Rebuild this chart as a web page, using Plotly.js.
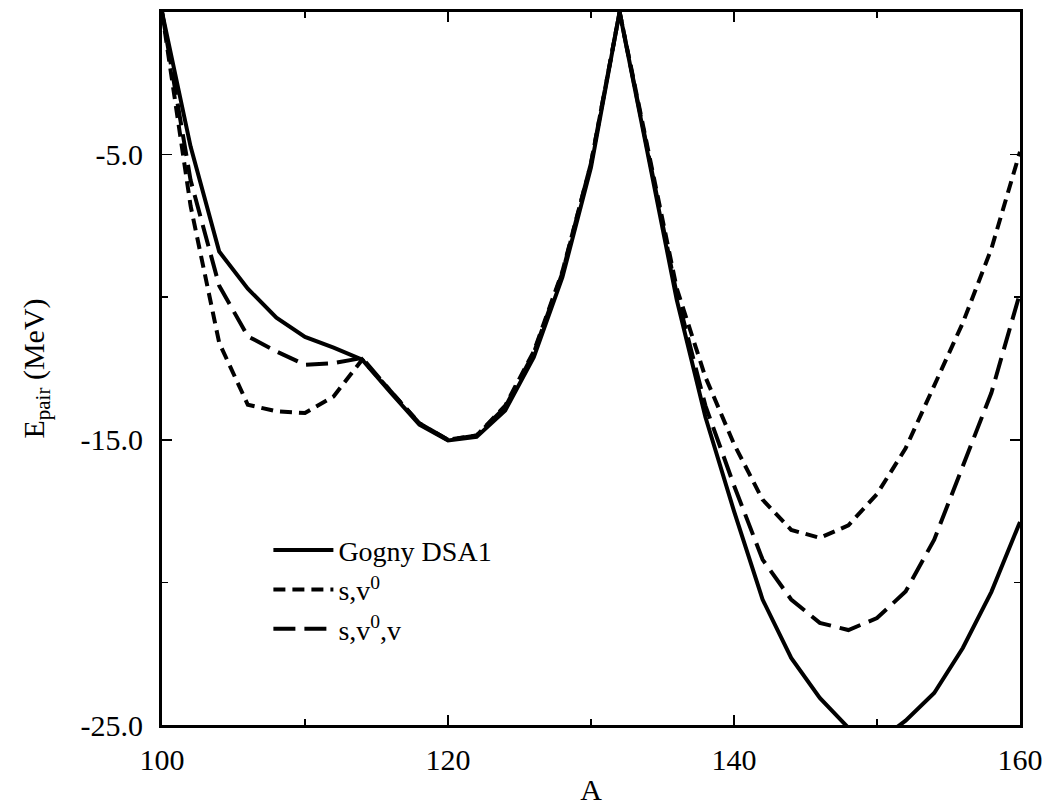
<!DOCTYPE html>
<html>
<head>
<meta charset="utf-8">
<script src="https://cdn.plot.ly/plotly-3.0.1.min.js"></script>
<style>html,body{margin:0;padding:0;background:#fff;font-family:'Liberation Serif',serif;}</style>
</head>
<body>
<div id="chart"></div>
<script>
const massNumber = [100,102,104,106,108,110,112,114,116,118,120,122,124,126,128,130,132,134,136,138,140,142,144,146,148,150,152,154,156,158,160];
const gognyDSA1 = [0,-4.72,-8.4,-9.7,-10.72,-11.39,-11.77,-12.19,-13.35,-14.47,-15.02,-14.9,-13.97,-12.1,-9.3,-5.45,0,-5.0,-10.1,-14.2,-17.5,-20.6,-22.65,-24.05,-25.1,-25.6,-24.85,-23.88,-22.3,-20.33,-17.88];
const sV0 = [0,-6.8,-11.6,-13.77,-14.0,-14.06,-13.48,-12.19,-13.3,-14.42,-15.0,-14.85,-13.8,-11.9,-9.1,-5.3,0,-4.9,-9.7,-12.8,-15.15,-17.1,-18.16,-18.44,-18.0,-16.9,-15.3,-13.1,-10.9,-8.3,-4.9];
const sV0V = [0,-5.9,-9.6,-11.37,-11.9,-12.37,-12.31,-12.13,-13.3,-14.42,-15.0,-14.85,-13.85,-11.95,-9.15,-5.3,0,-4.95,-9.9,-13.8,-16.6,-19.2,-20.6,-21.42,-21.67,-21.25,-20.32,-18.5,-15.94,-13.35,-9.85];
const seriesNames = ['Gogny DSA1','s,v<sup>0</sup>','s,v<sup>0</sup>,v'];
const yTickVals = [-25,-15,-5];
const yTickText = ['-25.0','-15.0','-5.0'];

const FAM = 'Liberation Serif';
const traces = [
  {x: massNumber, y: gognyDSA1, name: seriesNames[0], mode: 'lines', line: {color: '#000', width: 4, dash: 'solid'}},
  {x: massNumber, y: sV0, name: seriesNames[1], mode: 'lines', line: {color: '#000', width: 4, dash: '12px,7px'}},
  {x: massNumber, y: sV0V, name: seriesNames[2], mode: 'lines', line: {color: '#000', width: 4, dash: '22px,9px'}}
];
const layout = {
  width: 1050, height: 810,
  margin: {l: 162, r: 30, t: 12, b: 85},
  paper_bgcolor: '#fff', plot_bgcolor: '#fff',
  font: {family: FAM, size: 30, color: '#000'},
  showlegend: true,
  legend: {x: 0.124, y: 0.28, xanchor: 'left', yanchor: 'top', itemwidth: 60, bgcolor: 'rgba(0,0,0,0)', font: {family: FAM, size: 28, color: '#000'}, tracegroupgap: 0},
  xaxis: {
    range: [100, 160], tickmode: 'linear', tick0: 100, dtick: 20,
    ticks: 'inside', ticklen: 10, tickwidth: 1.5, tickcolor: '#000', ticklabelstandoff: 6,
    minor: {dtick: 10, tick0: 100, ticks: 'inside', ticklen: 6, tickwidth: 1.5, tickcolor: '#000'},
    showline: true, linewidth: 3, linecolor: '#000', mirror: 'ticks',
    showgrid: false, zeroline: false,
    tickfont: {family: FAM, size: 30, color: '#000'},
    title: {text: 'A', font: {family: FAM, size: 30, color: '#000'}, standoff: 4}
  },
  yaxis: {
    range: [-25, 0], tickmode: 'array', tickvals: yTickVals, ticktext: yTickText,
    ticks: 'inside', ticklen: 10, tickwidth: 1.5, tickcolor: '#000', ticklabelstandoff: 10,
    minor: {dtick: 5, tick0: -25, ticks: 'inside', ticklen: 6, tickwidth: 1.5, tickcolor: '#000'},
    showline: true, linewidth: 3, linecolor: '#000', mirror: 'ticks',
    showgrid: false, zeroline: false,
    tickfont: {family: FAM, size: 30, color: '#000'},
    title: {text: 'E<sub>pair</sub> (MeV)', font: {family: FAM, size: 30, color: '#000'}, standoff: 28}
  }
};
function draw() { Plotly.newPlot('chart', traces, layout, {displayModeBar: false, staticPlot: true}); }
if (document.fonts && document.fonts.load) {
  document.fonts.load('30px "Liberation Serif"').then(draw, draw);
} else { draw(); }
</script>
</body>
</html>
